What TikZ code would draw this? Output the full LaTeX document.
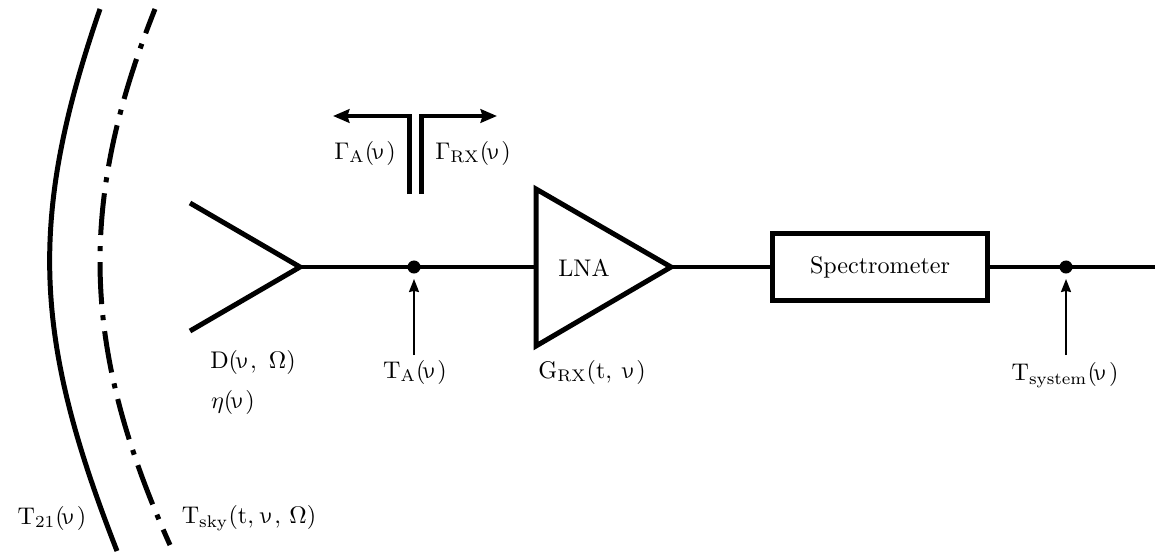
\documentclass[tikz,border=0pt]{standalone}
\usepackage{amsmath}
\usepackage[no-math]{fontspec}
\newfontfamily\lmgreek[FakeSlant=-0.2]{Latin Modern Math}
\usetikzlibrary{arrows.meta}
\newcommand{\fq}{\mbox{\lmgreek ν}}
\tikzset{
	thickline/.style={line width=2.07pt},
	thinline/.style={line width=0.62pt},
	label/.style={inner sep=0pt,outer sep=0pt},
	dotnode/.style={circle,fill=black,inner sep=0pt,outer sep=0pt,minimum size=5.4pt},
	bigtip/.style={-{Stealth[length=6.8pt,width=5.6pt,inset=0.8pt]}},
	smalltip/.style={-{Stealth[length=5.4pt,width=4.2pt,inset=0.5pt]}},
}
\begin{document}
\begin{tikzpicture}[line cap=butt,line join=miter,x=0.415pt,y=0.415pt]
	\useasboundingbox (0,0) rectangle (1171,551);
	% sky curves
	\draw [thickline] (100,542) .. controls (27,330) and (34,212) .. (117,0);
	\draw [thickline,dash pattern=on 17.4pt off 4.6pt on 2.1pt off 4.6pt,dash phase=6.6pt] (155,542) .. controls (77,346) and (82,202) .. (170,6);
	% horn
	\coordinate (hornTop) at (190,348);
	\coordinate (hornBot) at (190,220);
	\coordinate (hornTip) at (300,284);
	\draw [thickline] (hornTop)-- (hornTip)-- (hornBot);
	% chain
	\coordinate (ampTop) at (536,362);
	\coordinate (ampBot) at (536,205);
	\coordinate (ampTip) at (671,284);
	\coordinate (ampIn) at (536,284);
	\coordinate (lineEnd) at (1155,284);
	\draw [thickline] (ampTop)-- (ampBot)-- (ampTip)-- cycle;
	\node [draw,thickline,label,minimum width=89.6pt,minimum height=27.8pt] (spec) at (880,284) {Spectrometer};
	\draw [thickline] (hornTip)-- (ampIn);
	\draw [thickline] (ampTip)-- (spec);
	\draw [thickline] (spec)-- (lineEnd);
	\node [dotnode] (dotA) at (414,284) {};
	\node [dotnode] (dotS) at (1066,284) {};
	% reflection stubs
	\coordinate (stubLa) at (409,357);
	\coordinate (stubLb) at (409,435);
	\coordinate (stubLc) at (333,435);
	\coordinate (stubRa) at (421,357);
	\coordinate (stubRb) at (421,435);
	\coordinate (stubRc) at (497,435);
	\draw [thickline,bigtip] (stubLa)-- (stubLb)-- (stubLc);
	\draw [thickline,bigtip] (stubRa)-- (stubRb)-- (stubRc);
	% pointers
	\coordinate (ptrA) at (414,196);
	\coordinate (ptrS) at (1066,196);
	\draw [thinline,smalltip,shorten >=2.3pt] (ptrA)-- (dotA);
	\draw [thinline,smalltip,shorten >=2.3pt] (ptrS)-- (dotS);
	% labels
	\node [label] (lna) at (584,283) {LNA};
	\node [label] (gammaA) at (365,398) {$\mathrm{\Gamma_{A}(\fq)}$};
	\node [label] (gammaRX) at (473,398) {$\mathrm{\Gamma_{RX}(\fq)}$};
	\node [label] (dLabel) at (253,189) {$\mathrm{D(\fq,\ \Omega)}$};
	\node [label] (etaLabel) at (233,149) {$\eta(\fq)$};
	\node [label] (tA) at (415,179) {$\mathrm{T_{A}(\fq)}$};
	\node [label] (gRX) at (592,179) {$\mathrm{G_{RX}(t,\ \fq)}$};
	\node [label] (tSys) at (1065,176) {$\mathrm{T_{system}(\fq)}$};
	\node [label] (t21) at (52,33) {$\mathrm{T_{21}(\fq)}$};
	\node [label] (tSky) at (249,33) {$\mathrm{T_{sky}(t,\hspace{1.8pt}\fq,\hspace{1.8pt}\Omega)}$};
\end{tikzpicture}
\end{document}
